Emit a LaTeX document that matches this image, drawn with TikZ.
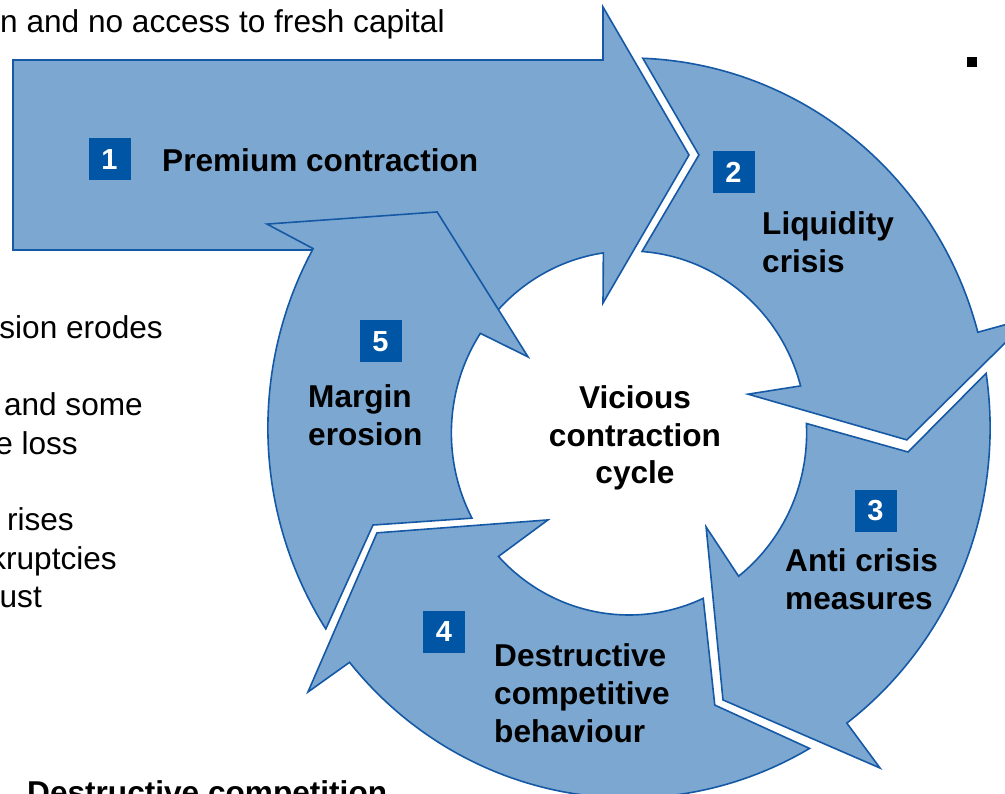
\documentclass[tikz,border=0pt]{standalone}
\usepackage{fontspec}
\setmainfont{Liberation Sans}
\definecolor{ringfill}{HTML}{7CA7D0}
\definecolor{ringline}{HTML}{1559A6}
\definecolor{numbox}{HTML}{0055A5}
\begin{document}
\begin{tikzpicture}[x=1pt,y=1pt,
  seg/.style={fill=ringfill, draw=ringline, line width=1.6pt, line join=miter, miter limit=20},
  numtag/.style={fill=numbox, minimum width=42pt, minimum height=42pt, inner sep=0pt,
                 text=white, font=\fontsize{29}{32}\selectfont\bfseries},
  lbl/.style={font=\fontsize{31.6}{38}\selectfont\bfseries, inner sep=0pt, align=left},
  side/.style={font=\fontsize{31.6}{38}\selectfont, inner sep=0pt}]
\useasboundingbox (0,0) rectangle (1005,-794);
\clip (0,0) rectangle (1005,-794);

% Step 1: straight band entering the cycle from the left
\draw[seg] (13,-60) -- (603,-60) -- (603,-7) -- (689,-155) -- (603,-303) -- (603.36,-252.9)
  arc[start angle=98.3, end angle=145, x radius=177.6, y radius=182]
  -- (330,-250) -- (13,-250) -- cycle;

% Ring segments (polar about the cycle centre; inner rim centred 5 units lower)
\begin{scope}[shift={(629,-428)}, xscale=0.976]
  % Step 2
  \draw[seg] (87.8:370) -- (75.3:282.3) -- ({182*cos(85.8)},{-5+182*sin(85.8)})
    arc[start angle=85.8, end angle=15, radius=182]
    -- (15.5:126.6) -- (-2.4:285) -- (15:426) -- (15:370)
    arc[start angle=15, end angle=87.8, radius=370] -- cycle;
  % Step 3
  \draw[seg] (8.5:370) -- (-4.8:286.9) -- ({182*cos(3)},{-5+182*sin(3)})
    arc[start angle=3, end angle=-51.9, radius=182]
    -- (-51.4:126.6) -- (-70.5:288.5) -- (-52.9:426.3) -- (-52.9:370)
    arc[start angle=-52.9, end angle=8.5, radius=370] -- cycle;
  % Step 4
  \draw[seg] (-60:370) -- (-72.4:290.7) -- ({182*cos(-65.3)},{-5+182*sin(-65.3)})
    arc[start angle=-65.3, end angle=-137.3, radius=182]
    -- (-132.1:123.9) -- (-157.9:278.7) -- (-141.25:421.8) -- (-140.7:370)
    arc[start angle=-140.7, end angle=-60, radius=370] -- cycle;
  % Step 5
  \draw[seg] (212.9:370) -- (200.3:279.7) -- ({182*cos(207.9)},{-5+182*sin(207.9)})
    arc[start angle=207.9, end angle=146.8, radius=182]
    -- (145.5:125.5) -- (132.3:292.1) -- (151.2:423.3) -- (151:370)
    arc[start angle=151, end angle=212.9, radius=370] -- cycle;
\end{scope}

% Step numbers
\node[numtag] (n1) at (109.5,-159.5) {1};
\node[numtag] (n2) at (733.5,-172.5) {2};
\node[numtag] (n3) at (875.5,-511) {3};
\node[numtag] (n4) at (444,-631.5) {4};
\node[numtag] (n5) at (380.5,-341.5) {5};

% Step labels (multi-line nodes sit on the baseline of their last line)
\node[lbl, anchor=base west] (t1) at (162,-172) {Premium contraction};
\node[lbl, anchor=base west] (t2) at (762,-273) {Liquidity\\crisis};
\node[lbl, anchor=base west] (t3) at (785,-609) {Anti crisis\\measures};
\node[lbl, anchor=base west] (t4) at (494,-742) {Destructive\\competitive\\behaviour};
\node[lbl, anchor=base west] (t5) at (308,-446) {Margin\\erosion};
\node[lbl, align=center, anchor=base] (tc) at (635,-484) {Vicious\\contraction\\cycle};

% Surrounding text
\node[side, anchor=base west] (s0) at (0,-33) {n and no access to fresh capital};
\node[side, anchor=base east] (s1) at (163,-339) {sion erodes};
\node[side, anchor=base east] (s2) at (143,-416) {and some};
\node[side, anchor=base east] (s3) at (78,-454) {e loss};
\node[side, anchor=base east] (s4) at (74,-530) {rises};
\node[side, anchor=base east] (s5) at (117,-569) {kruptcies};
\node[side, anchor=base east] (s6) at (42,-607) {ust};
\node[lbl, anchor=base west] (s7) at (27,-803) {Destructive competition};
\node[fill=black, minimum width=10pt, minimum height=9.5pt, inner sep=0pt] (b1) at (971.7,-62) {};
\end{tikzpicture}
\end{document}
